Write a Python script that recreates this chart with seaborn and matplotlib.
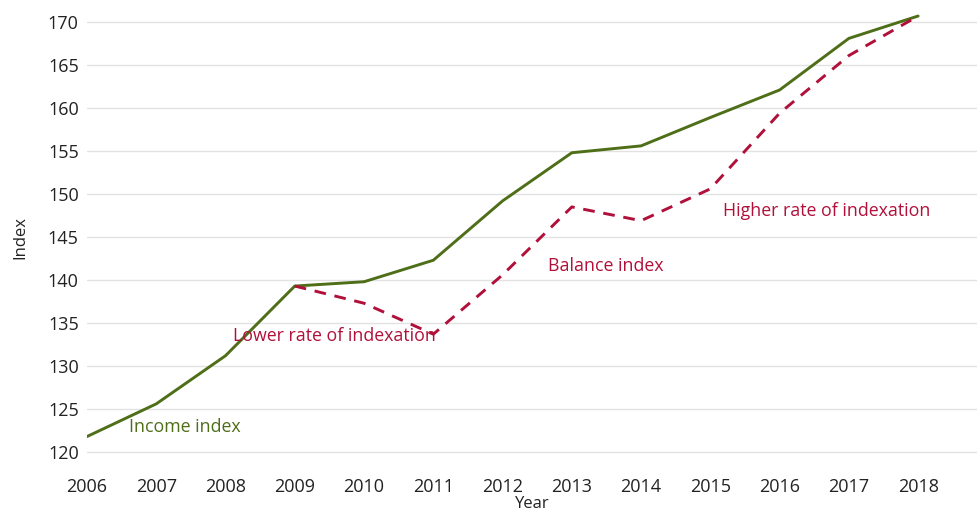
import numpy as np
import pandas as pd
import matplotlib
matplotlib.use("Agg")
import matplotlib.pyplot as plt
import seaborn as sns

sns.set_theme(style="white")
plt.rcParams['font.family'] = ['Open Sans', 'DejaVu Sans']

years = list(range(2006, 2019))
income_index = [121.8, 125.6, 131.2, 139.3, 139.8, 142.3, 149.2, 154.8, 155.6, 158.9, 162.1, 168.1, 170.7]
balance_years = list(range(2009, 2019))
balance_index = [139.3, 137.3, 133.7, 140.6, 148.5, 146.9, 150.6, 159.4, 166.1, 170.7]

green = '#4E6E18'
red = '#B0103A'

df_income = pd.DataFrame({'Year': years, 'Index': income_index})
df_balance = pd.DataFrame({'Year': balance_years, 'Index': balance_index})

fig = plt.figure(figsize=(9.77, 5.15), dpi=100)
ax = fig.add_axes([87 / 977, 0.0889, 1 - 87 / 977, 0.9017])

sns.lineplot(data=df_income, x='Year', y='Index', color=green, linewidth=2.1, ax=ax)
sns.lineplot(data=df_balance, x='Year', y='Index', color=red, linewidth=2.1,
             dashes=False, ax=ax, linestyle=(0, (4, 3)))

ax.set_xlim(2006, 2018.85)
ax.set_ylim(118, 172)
ax.set_yticks(range(120, 171, 5))
ax.set_xticks(years)
ax.yaxis.grid(True, color='#E2E2E2', linewidth=1.0)
ax.xaxis.grid(False)
for s in ax.spines.values():
    s.set_visible(False)
ax.tick_params(axis='both', labelsize=13, colors='#222222', length=0, pad=6)
ax.set_xlabel('Year', fontsize=12, color='#222222', labelpad=0)
ax.set_ylabel('Index', fontsize=12, color='#222222', labelpad=14)

ax.text(2006.61, 122.9, 'Income index', color=green, fontsize=12.8, va='center')
ax.text(2008.11, 133.5, 'Lower rate of indexation', color=red, fontsize=12.8, va='center')
ax.text(2012.66, 141.6, 'Balance index', color=red, fontsize=12.8, va='center')
ax.text(2015.18, 148.0, 'Higher rate of indexation', color=red, fontsize=12.8, va='center')

fig.savefig('out.png', dpi=100)
